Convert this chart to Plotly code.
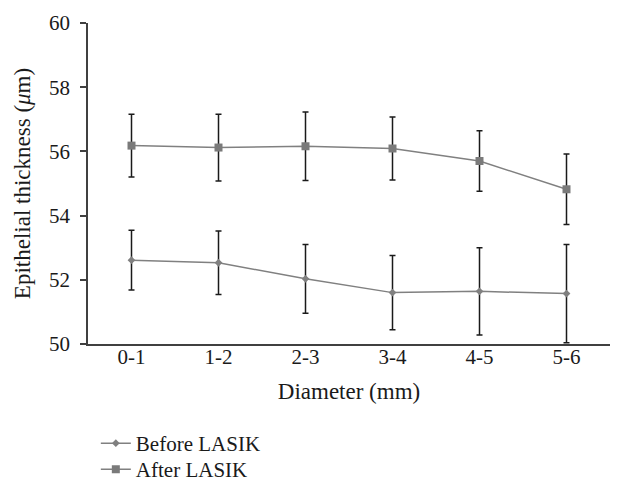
import plotly.graph_objects as go

categories = ["0-1", "1-2", "2-3", "3-4", "4-5", "5-6"]
before_vals = [52.61, 52.53, 52.03, 51.60, 51.64, 51.57]
before_err = [0.93, 0.99, 1.07, 1.16, 1.36, 1.53]
after_vals = [56.18, 56.12, 56.16, 56.09, 55.70, 54.82]
after_err = [0.98, 1.04, 1.07, 0.98, 0.94, 1.10]

font_family = "Liberation Serif"

fig = go.Figure()
fig.add_trace(go.Scatter(
    x=categories, y=before_vals, name="Before LASIK", mode="lines+markers",
    line=dict(color="#808080", width=1.5),
    marker=dict(symbol="diamond", size=6, color="#808080"),
    error_y=dict(type="data", array=before_err, visible=True, color="#1a1a1a", thickness=1.5, width=3),
    legend="legend",
))
fig.add_trace(go.Scatter(
    x=categories, y=after_vals, name="After LASIK", mode="lines+markers",
    line=dict(color="#808080", width=1.5),
    marker=dict(symbol="square", size=8, color="#7a7a7a"),
    error_y=dict(type="data", array=after_err, visible=True, color="#1a1a1a", thickness=1.5, width=3),
    legend="legend2",
))

legend_common = dict(x=0.015, xanchor="left", yanchor="top",
                     font=dict(family=font_family, size=21, color="#1a1a1a"),
                     bgcolor="rgba(0,0,0,0)")

fig.update_layout(
    width=644, height=491,
    margin=dict(l=80, r=42, t=15, b=10, autoexpand=False),
    plot_bgcolor="white", paper_bgcolor="white",
    font=dict(family=font_family, size=21, color="#1a1a1a"),
    showlegend=True,
    legend=dict(y=0.1416, **legend_common),
    legend2=dict(y=0.0858, **legend_common),
    xaxis=dict(
        type="category", range=[-0.5, 5.5], automargin=False,
        showline=True, linecolor="#404040", linewidth=1.5,
        showgrid=False, ticks="", zeroline=False,
        ticklabelstandoff=-7,
        title=dict(text="Diameter (mm)", font=dict(size=23), standoff=15),
        tickfont=dict(size=21),
    ),
    yaxis=dict(
        domain=[0.3112, 1], automargin=False,
        range=[50, 60], dtick=2, tick0=50,
        showline=True, linecolor="#404040", linewidth=1.5,
        showgrid=False, ticks="outside", ticklen=6, tickcolor="#404040", tickwidth=1.5,
        zeroline=False, ticklabelstandoff=6,
        title=dict(text="Epithelial thickness (<i>μ</i>m)", font=dict(size=23), standoff=12),
        tickfont=dict(size=21),
    ),
)

fig.write_html("out.html")
